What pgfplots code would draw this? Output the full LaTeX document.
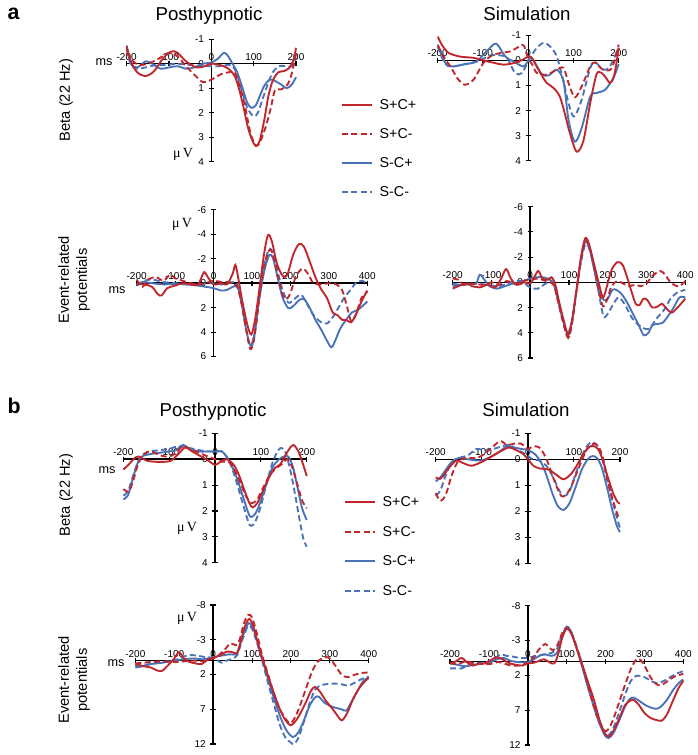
\documentclass[border=0pt]{standalone}
\usepackage{fontspec}
\setmainfont{Liberation Sans}
\newfontfamily\serifmu{Liberation Serif}
\usepackage{pgfplots}
\pgfplotsset{compat=1.18}
\definecolor{myred}{RGB}{192,39,45}
\definecolor{myblue}{RGB}{74,114,184}
\tikzset{
  rs/.style={myred, solid, line width=1.4pt},
  rd/.style={myred, dash pattern=on 4.5pt off 2.5pt, line width=1.4pt},
  bs/.style={myblue, solid, line width=1.4pt},
  bd/.style={myblue, dash pattern=on 4.5pt off 2.5pt, line width=1.4pt},
}
\pgfplotsset{
  panel/.style={
    scale only axis, anchor=south west,
    axis lines=middle, axis line style={-, line width=1.1pt, black},
    y dir=reverse,
    hide obscured x ticks=false, hide obscured y ticks=false,
    tick style={black, line width=0.8pt}, major tick length=4pt, tick align=center,
    tick label style={font=\fontsize{7.5}{8}\selectfont},
    xticklabel style={anchor=south, yshift=1pt},
    /pgf/number format/assume math mode=true,
    clip=false,
    every axis plot/.append style={smooth, tension=0.5, no marks},
  },
  beta/.style={panel, xmin=-200, xmax=200, ymin=-1, ymax=4,
    xtick={-200,-100,0,100,200}, ytick={-1,0,1,2,3,4}},
  erpa/.style={panel, xmin=-200, xmax=400, ymin=-6, ymax=6,
    xtick={-200,-100,0,100,200,300,400}, ytick={-6,-4,-2,0,2,4,6}},
  erpb/.style={panel, xmin=-200, xmax=400, ymin=-8, ymax=12,
    xtick={-200,-100,0,100,200,300,400}, ytick={-8,-3,2,7,12}},
}
\begin{document}
\begin{tikzpicture}
\useasboundingbox (0,0) rectangle (522.75pt,566.25pt);

% ---------- a: Posthypnotic beta ----------
\begin{axis}[beta, at={(95pt,445pt)}, width=127pt, height=91.8pt]
\addplot[bd] coordinates {(-200,-0.6) (-190,0.05) (-175,0.2) (-155,0.15) (-130,0.05) (-110,0.05) (-80,0) (-50,0.05) (-20,0.1) (0,0.1) (20,0.1) (40,0.05) (50,0.1) (60,0.4) (72,1.1) (85,1.8) (100,2.15) (110,2.0) (120,1.5) (132,0.9) (145,0.35) (160,0.1) (175,0.1) (190,0.1) (200,-0.25)};
\addplot[bs] coordinates {(-200,-0.75) (-190,0) (-175,0.15) (-155,-0.1) (-140,0) (-120,0.2) (-100,0.15) (-80,0.1) (-60,0.2) (-40,0.15) (-20,0) (0,-0.05) (15,-0.2) (30,-0.45) (40,-0.3) (50,0) (60,0.3) (72,0.9) (85,1.6) (95,1.8) (105,1.7) (115,1.3) (125,0.9) (138,0.65) (150,0.7) (165,0.85) (178,1.0) (190,0.85) (200,0.55)};
\addplot[rd] coordinates {(-200,-0.45) (-185,-0.1) (-170,0.05) (-150,0) (-125,-0.2) (-100,-0.45) (-80,-0.3) (-60,0.1) (-40,0.45) (-20,0.75) (0,0.65) (20,0.45) (40,0.35) (55,0.35) (65,0.8) (78,1.6) (92,2.8) (105,3.35) (115,3.2) (128,2.6) (140,1.85) (150,1.1) (165,1.05) (180,0.85) (190,0.4) (200,-0.4)};
\addplot[rs] coordinates {(-200,-0.7) (-190,-0.1) (-175,0.35) (-155,0.5) (-135,0.3) (-115,-0.2) (-95,-0.5) (-80,-0.45) (-60,-0.1) (-35,0.15) (-15,0.1) (0,0) (20,0.05) (40,0.2) (55,0.5) (65,1.0) (75,1.7) (88,2.7) (100,3.25) (107,3.35) (115,3.1) (125,2.3) (135,1.3) (145,0.7) (158,0.35) (172,0.3) (185,0.15) (195,-0.2) (200,-0.65)};
\end{axis}

% ---------- a: Simulation beta ----------
\begin{axis}[beta, at={(328.3pt,445.7pt)}, width=135.75pt, height=94.05pt]
\addplot[bd] coordinates {(-200,-0.55) (-185,0.1) (-170,0.25) (-140,0.15) (-106,0) (-84,-0.2) (-62,-0.2) (-47,-0.1) (-29,0.5) (-14,0.5) (4,-0.1) (19,-0.5) (34,-0.7) (48,-0.56) (63,-0.16) (78,0.84) (89,1.7) (101,2.24) (118,1.57) (137,0.3) (148,0.08) (166,0.37) (180,0.25) (200,-0.5)};
\addplot[bs] coordinates {(-200,-0.63) (-185,0.05) (-170,0.24) (-140,0.15) (-115,0.05) (-92,-0.36) (-71,-0.67) (-51,-0.16) (-33,0.04) (-11,0.24) (0,0) (4,-0.15) (15,0.1) (30,0.55) (45,0.6) (63,0.37) (78,0.84) (89,2.37) (103,3.24) (118,2.7) (137,1.44) (151,1.3) (170,1.17) (188,0.7) (200,0.15)};
\addplot[rd] coordinates {(-200,-0.6) (-185,-0.1) (-170,0.3) (-155,0.75) (-140,0.97) (-121,0.77) (-99,0.1) (-80,-0.2) (-60,-0.3) (-40,-0.36) (-20,-0.55) (-10,-0.6) (0,-0.1) (10,0.2) (19,0.5) (41,0.57) (63,0.37) (78,0.3) (89,0.9) (103,1.47) (118,1.04) (137,0.24) (148,0.08) (160,0.3) (170,0.4) (185,0.3) (200,-0.63)};
\addplot[rs] coordinates {(-200,-0.95) (-190,-0.6) (-176,-0.3) (-150,-0.15) (-120,-0.1) (-99,0) (-75,0.1) (-55,0.17) (-30,0.1) (-10,-0.05) (0,-0.15) (8,-0.1) (19,0.25) (30,0.6) (41,0.9) (56,1.1) (70,1.45) (82,2.2) (92,2.9) (107,3.64) (122,3.2) (137,1.7) (151,0.55) (162,0.5) (172,0.7) (181,0.9) (190,0.6) (200,-0.5)};
\end{axis}

% ---------- a: Posthypnotic ERP ----------
\begin{axis}[erpa, at={(102.5pt,298.9pt)}, width=172.95pt, height=109.9pt]
\addplot[bd] coordinates {(-200,0.2) (-180,-0.2) (-160,-0.3) (-130,-0.1) (-100,0) (-70,0.1) (-40,0.1) (-20,0) (0,0) (20,0.1) (40,0) (60,0) (72,1.5) (85,3.8) (96,5.3) (106,4.4) (118,1.5) (132,-1.5) (145,-2.8) (155,-2.4) (168,-0.8) (180,0.6) (195,1.6) (210,1.3) (228,0.95) (245,1.8) (260,2.6) (280,3.2) (295,3.3) (310,2.8) (325,2.0) (340,1.2) (355,0.6) (370,0) (385,-0.2) (400,0)};
\addplot[bs] coordinates {(-200,0.1) (-185,-0.1) (-160,0) (-130,0.1) (-100,0.05) (-70,0.1) (-40,0.2) (-20,0.3) (0,0.4) (20,0.6) (35,0.55) (50,0.3) (62,0.3) (72,1.5) (85,3.8) (96,5.1) (106,4.2) (118,1.5) (132,-1.0) (145,-2.3) (155,-2.0) (168,-0.3) (180,1.2) (195,2.05) (210,1.8) (222,1.4) (235,1.3) (250,2.0) (265,3.0) (280,3.8) (295,4.7) (307,5.25) (318,4.6) (330,3.7) (345,3.0) (360,2.4) (375,2.2) (390,1.8) (400,1.5)};
\addplot[rd] coordinates {(-200,-0.3) (-185,0.3) (-170,-0.3) (-150,-0.5) (-130,-0.2) (-113,-0.7) (-100,-0.4) (-80,-0.2) (-60,0) (-40,0.1) (-20,0) (0,-0.2) (20,-0.1) (40,-0.1) (60,0.2) (72,1.5) (85,3.8) (96,5.4) (106,4.5) (118,1.5) (130,-1.2) (145,-2.7) (155,-2.3) (168,-0.5) (180,1.0) (190,1.3) (200,0.8) (215,-0.6) (232,-1.2) (245,-0.8) (260,0) (280,0.1) (300,0) (320,0.1) (335,0.6) (348,2.0) (358,3.1) (370,2.6) (385,1.2) (400,0.7)};
\addplot[rs] coordinates {(-200,0.1) (-180,0.1) (-160,0.3) (-145,0.9) (-135,1.0) (-120,0.4) (-100,0.2) (-80,0) (-60,0.1) (-40,0.1) (-25,-0.9) (-15,-0.5) (0,0.1) (20,0) (35,0.1) (50,-0.8) (57,-1.5) (65,-0.3) (75,1.5) (88,3.4) (98,4.2) (108,3.0) (120,0.3) (132,-2.5) (142,-3.95) (152,-3.4) (165,-1.6) (180,-0.6) (192,-0.7) (207,-2.3) (222,-3.2) (235,-3.0) (250,-1.8) (265,-0.5) (280,0.5) (295,1.2) (310,2.4) (322,2.6) (335,3.0) (345,3.0) (358,3.2) (370,2.6) (385,1.5) (400,0.6)};
\end{axis}

% ---------- a: Simulation ERP ----------
\begin{axis}[erpa, at={(339.5pt,297.75pt)}, width=174.45pt, height=113.5pt]
\addplot[bd] coordinates {(-200,0.3) (-170,0.2) (-140,0.1) (-110,0.2) (-80,0.3) (-50,0) (-25,-0.1) (0,0.4) (20,0.5) (40,0.1) (60,0) (72,1.5) (85,3.2) (98,4.4) (108,3.2) (120,0.5) (131,-1.6) (142,-3.0) (152,-2.7) (165,-1.2) (178,1.0) (189,2.7) (200,2.5) (213,1.8) (228,1.2) (245,1.8) (262,2.8) (280,3.4) (298,3.7) (310,3.6) (325,2.9) (345,2.2) (362,1.3) (380,0.8) (400,0.6)};
\addplot[bs] coordinates {(-200,0.1) (-180,0.2) (-160,0.1) (-140,0.1) (-130,-0.6) (-118,-0.2) (-105,0.3) (-85,0.5) (-65,0.3) (-45,0.1) (-20,-0.1) (0,-0.3) (15,-0.4) (30,-0.4) (45,-0.3) (60,0.1) (72,1.5) (85,3.0) (97,4.0) (108,3.0) (120,0.5) (131,-1.8) (142,-3.2) (152,-2.8) (165,-1.0) (178,0.8) (190,1.4) (200,1.3) (212,0.6) (222,0.6) (235,0.9) (250,1.6) (265,2.5) (280,3.4) (293,4.2) (305,4.0) (315,3.4) (328,3.3) (342,3.2) (355,2.7) (370,2.0) (385,1.2) (400,1.2)};
\addplot[rd] coordinates {(-200,-0.3) (-185,-0.2) (-170,0.2) (-150,0.1) (-120,0.2) (-100,0) (-80,0.2) (-60,-0.1) (-40,0.1) (-20,-0.1) (0,-0.2) (20,-0.3) (40,-0.1) (60,0.2) (72,1.5) (85,3.2) (98,4.4) (108,3.2) (120,0.5) (131,-1.8) (142,-3.3) (152,-2.9) (165,-1.2) (178,0.8) (188,1.9) (198,1.4) (210,0.3) (225,-0.1) (240,0.1) (255,0.3) (270,0.2) (285,0.3) (300,0.1) (315,-0.5) (335,-0.9) (348,-0.6) (362,0) (378,0.3) (390,0.2) (400,-0.1)};
\addplot[rs] coordinates {(-200,0.5) (-185,0.3) (-165,0.1) (-150,0.3) (-130,0.4) (-110,0.2) (-90,0.4) (-75,-0.3) (-62,-1.05) (-50,-0.3) (-35,0.2) (-15,0) (0,0.1) (12,-0.5) (21,-0.9) (32,-0.3) (45,-0.2) (55,-0.4) (65,0.2) (75,1.6) (88,3.2) (98,4.2) (108,3.0) (120,0.5) (131,-2.0) (142,-3.5) (152,-3.0) (165,-1.4) (178,0.2) (188,1.2) (198,0.3) (210,-1.0) (225,-1.6) (238,-1.4) (250,-0.4) (262,0.8) (272,1.7) (282,1.8) (292,1.3) (302,1.4) (315,2.0) (330,1.9) (340,1.7) (352,2.1) (365,2.4) (380,2.0) (400,1.3)};
\end{axis}

% ---------- b: Posthypnotic beta ----------
\begin{axis}[beta, at={(92.5pt,144.2pt)}, width=137.55pt, height=97.05pt]
\addplot[bd] coordinates {(-200,1.4) (-190,1.25) (-180,0.7) (-170,0.2) (-160,-0.15) (-140,-0.3) (-120,-0.35) (-100,-0.4) (-80,-0.5) (-60,-0.45) (-35,-0.35) (-15,-0.3) (0,-0.3) (15,-0.3) (25,-0.1) (35,0.25) (48,0.95) (62,1.8) (76,2.55) (88,2.4) (100,1.8) (113,0.9) (126,0.1) (138,-0.35) (146,-0.43) (155,-0.2) (165,0.5) (175,1.4) (185,2.4) (193,3.1) (200,3.38)};
\addplot[bs] coordinates {(-200,1.55) (-190,1.4) (-180,0.8) (-170,0.2) (-160,-0.1) (-140,-0.2) (-120,-0.25) (-100,-0.3) (-85,-0.35) (-70,-0.55) (-55,-0.4) (-35,-0.3) (-15,-0.3) (0,-0.3) (15,-0.3) (25,-0.1) (35,0.2) (48,0.75) (62,1.5) (76,2.2) (88,2.1) (100,1.6) (113,0.9) (126,0.3) (140,0) (150,-0.1) (160,-0.1) (170,0.3) (180,1.1) (190,1.9) (200,2.35)};
\addplot[rd] coordinates {(-200,1.15) (-188,1.25) (-178,0.8) (-168,0.2) (-155,-0.2) (-140,-0.3) (-120,-0.15) (-100,-0.1) (-85,-0.25) (-70,-0.5) (-55,-0.4) (-35,-0.25) (-15,-0.1) (0,0) (15,0.1) (30,0.1) (42,0.4) (55,0.9) (68,1.45) (80,1.7) (92,1.55) (105,1.1) (118,0.65) (130,0.4) (145,0.2) (158,0) (168,0.3) (180,1.0) (190,1.6) (200,1.9)};
\addplot[rs] coordinates {(-200,0.4) (-188,0.2) (-175,-0.05) (-165,-0.1) (-150,0.05) (-130,0.1) (-110,0.1) (-95,0.05) (-80,-0.2) (-65,-0.45) (-50,-0.3) (-30,-0.1) (-15,0.05) (0,0.22) (12,0.1) (25,0) (40,0.2) (52,0.6) (64,1.2) (75,1.7) (82,1.86) (92,1.7) (105,1.2) (118,0.7) (130,0.35) (142,0.2) (152,-0.1) (162,-0.4) (171,-0.55) (182,-0.3) (192,0.2) (200,0.65)};
\end{axis}

% ---------- b: Simulation beta ----------
\begin{axis}[beta, at={(326.8pt,143.8pt)}, width=138.2pt, height=97.5pt]
\addplot[bd] coordinates {(-200,1.4) (-190,1.2) (-178,0.6) (-165,0.1) (-150,-0.05) (-130,-0.15) (-112,-0.4) (-95,-0.35) (-75,-0.4) (-55,-0.5) (-40,-0.55) (-22,-0.35) (-5,-0.2) (10,0) (25,0.05) (40,0.25) (55,0.7) (68,1.2) (77,1.42) (90,1.25) (104,0.55) (118,-0.15) (130,-0.55) (140,-0.65) (152,-0.5) (163,0.1) (175,1.0) (188,1.9) (200,2.65)};
\addplot[bs] coordinates {(-200,0.85) (-190,0.7) (-178,0.4) (-165,0.1) (-150,-0.05) (-130,0) (-105,0.05) (-85,-0.05) (-65,-0.25) (-45,-0.5) (-30,-0.45) (-15,-0.4) (0,-0.35) (15,-0.2) (28,0.1) (40,0.6) (53,1.3) (65,1.8) (77,1.95) (90,1.7) (103,1.1) (117,0.4) (130,0) (140,-0.12) (150,-0.05) (160,0.3) (172,1.1) (184,2.0) (194,2.6) (200,2.8)};
\addplot[rd] coordinates {(-200,1.3) (-190,1.6) (-178,1.35) (-165,0.6) (-150,0.05) (-130,-0.05) (-110,-0.05) (-95,-0.2) (-78,-0.45) (-60,-0.7) (-45,-0.55) (-30,-0.6) (-15,-0.6) (0,-0.4) (12,-0.5) (25,-0.45) (35,-0.2) (45,0.2) (58,0.85) (73,1.42) (88,1.25) (102,0.7) (117,0.05) (130,-0.45) (142,-0.6) (153,-0.5) (163,-0.05) (173,0.8) (185,1.6) (195,2.15) (200,2.3)};
\addplot[rs] coordinates {(-200,0.7) (-190,0.75) (-180,0.55) (-170,0.3) (-155,0.05) (-140,0.15) (-122,0.25) (-100,0.1) (-80,-0.1) (-60,-0.3) (-42,-0.45) (-25,-0.35) (-10,-0.2) (0,0) (12,0.25) (25,0.35) (45,0.4) (62,0.6) (77,0.77) (92,0.6) (106,0.25) (120,-0.2) (132,-0.45) (140,-0.52) (152,-0.4) (162,0) (172,0.6) (185,1.3) (195,1.65) (200,1.7)};
\end{axis}

% ---------- b: Posthypnotic ERP ----------
\begin{axis}[erpb, at={(101.5pt,8.25pt)}, width=175.05pt, height=104.25pt]
\addplot[bd] coordinates {(-200,0.8) (-180,0.6) (-160,0.5) (-130,0.2) (-100,0) (-80,-0.5) (-60,-0.8) (-40,-0.7) (-20,-0.5) (0,-0.4) (12,0) (22,0.3) (35,0) (50,-0.3) (62,-0.8) (72,-2.5) (82,-4.0) (90,-5.0) (100,-4.6) (113,-2.5) (126,0) (140,3.0) (155,6.0) (170,9.0) (185,11.0) (200,11.8) (208,12.0) (220,11.0) (235,8.5) (250,5.8) (262,4.2) (275,3.6) (290,3.4) (310,3.3) (330,3.4) (345,3.6) (360,3.3) (380,2.7) (400,2.3)};
\addplot[bs] coordinates {(-200,1.0) (-180,0.8) (-160,0.5) (-130,0.3) (-100,0) (-75,-0.2) (-50,-0.3) (-25,-0.2) (0,-0.5) (20,-0.7) (40,-0.9) (60,-1.0) (72,-2.8) (82,-4.4) (92,-5.4) (102,-4.8) (115,-2.5) (128,0) (142,2.8) (157,5.5) (172,8.0) (188,10.0) (205,11.0) (218,10.4) (232,8.8) (248,6.5) (262,5.3) (272,5.2) (285,6.0) (300,6.5) (315,6.8) (330,7.0) (342,7.2) (355,6.0) (370,4.5) (385,3.0) (400,2.4)};
\addplot[rd] coordinates {(-200,0.4) (-180,0.3) (-160,0.2) (-130,0.1) (-100,0.2) (-75,0.1) (-50,0) (-25,0.1) (0,-0.3) (15,-0.8) (30,-1.6) (45,-2.5) (58,-2.2) (68,-3.0) (80,-5.5) (91,-6.6) (100,-6.2) (112,-4.0) (125,-1.0) (140,1.8) (155,4.5) (170,6.8) (185,8.3) (199,9.0) (212,8.0) (225,6.2) (240,3.8) (255,1.5) (268,0.2) (280,-0.3) (292,-0.5) (302,-0.2) (315,0.8) (330,2.0) (345,2.4) (360,2.1) (380,1.8) (400,1.7)};
\addplot[rs] coordinates {(-200,0.5) (-180,0.8) (-160,1.0) (-145,1.4) (-132,1.5) (-118,0.8) (-100,-0.3) (-88,-1.2) (-75,-0.3) (-60,0.2) (-45,0.4) (-30,0.5) (-15,-0.1) (0,-0.4) (20,-0.8) (35,-1.3) (50,-1.2) (62,-1.1) (72,-3.0) (82,-5.0) (93,-6.0) (103,-5.0) (115,-2.5) (128,0) (140,2.0) (155,4.5) (170,6.8) (185,8.5) (199,9.3) (212,8.7) (225,7.5) (240,5.8) (252,4.3) (262,3.8) (275,4.5) (290,5.8) (305,6.8) (318,7.8) (331,8.6) (345,7.5) (360,5.5) (375,4.0) (390,3.0) (400,2.5)};
\end{axis}

% ---------- b: Simulation ERP ----------
\begin{axis}[erpb, at={(337.5pt,7.5pt)}, width=175pt, height=104.5pt]
\addplot[bd] coordinates {(-200,1.0) (-185,1.0) (-170,1.0) (-155,0.6) (-140,0.3) (-120,0.2) (-100,0) (-85,-0.4) (-70,-1.0) (-55,-0.8) (-40,-0.7) (-20,-0.5) (0,-0.5) (20,-0.8) (40,-1.0) (60,-1.2) (75,-1.8) (88,-3.8) (100,-4.8) (112,-4.2) (125,-2.0) (140,0.5) (155,3.3) (170,6.5) (185,9.0) (200,10.3) (210,10.5) (222,9.3) (238,6.8) (252,4.5) (265,2.8) (278,2.1) (292,2.1) (305,2.4) (320,2.9) (335,3.1) (350,2.8) (368,2.2) (385,1.7) (400,1.4)};
\addplot[bs] coordinates {(-200,0.3) (-180,0.5) (-160,0.7) (-140,0.5) (-120,0.3) (-100,0.2) (-80,-0.3) (-62,-0.5) (-45,-0.1) (-25,0.1) (0,0.1) (15,-0.3) (30,-0.8) (45,-1.0) (60,-0.8) (75,-1.2) (88,-3.5) (100,-5.0) (112,-4.2) (125,-2.0) (140,0.8) (155,3.8) (170,6.5) (185,9.0) (198,10.6) (208,11.0) (220,10.3) (235,8.5) (250,6.5) (262,5.4) (272,5.2) (285,5.6) (300,6.2) (315,6.6) (330,6.8) (342,6.5) (358,5.5) (375,4.0) (390,3.0) (400,2.6)};
\addplot[rd] coordinates {(-200,0.2) (-180,0.4) (-160,0) (-130,0.3) (-100,0.4) (-75,0.1) (-50,0.5) (-25,0.6) (0,0.2) (15,-0.6) (30,-1.8) (45,-2.5) (55,-2.0) (65,-1.6) (75,-2.2) (88,-4.0) (100,-4.8) (112,-4.0) (125,-2.2) (140,0.5) (155,3.5) (170,6.5) (185,8.8) (200,10.0) (212,9.3) (225,7.5) (240,5.0) (255,2.6) (268,0.7) (280,-0.3) (290,-0.2) (302,0.8) (318,2.5) (335,3.4) (350,3.2) (365,2.6) (380,2.1) (400,1.8)};
\addplot[rs] coordinates {(-200,0.3) (-185,0) (-170,-0.5) (-155,0.2) (-140,0.6) (-125,0.3) (-110,0.3) (-95,-0.2) (-80,-0.6) (-65,-0.3) (-50,0.2) (-30,0.5) (-15,0.6) (0,0.3) (15,0.2) (30,-0.1) (42,-0.3) (55,0.1) (68,0.3) (78,-1.0) (88,-3.3) (100,-4.7) (112,-4.0) (125,-2.0) (140,0.5) (155,3.0) (170,5.5) (185,8.5) (198,10.3) (208,10.8) (220,10.0) (235,8.2) (250,6.3) (262,5.7) (272,5.5) (285,6.2) (300,7.4) (315,8.1) (330,8.4) (345,8.5) (358,7.6) (372,5.8) (388,3.8) (400,2.8)};
\end{axis}

% ---------- text, in image pixel coordinates ----------
\begin{scope}[x=0.75pt, y=-0.75pt, shift={(0,566.25pt)}]
  \node[anchor=base west, font=\fontsize{16}{18}\selectfont\bfseries] at (3,20) {a};
  \node[anchor=base west, font=\fontsize{16}{18}\selectfont\bfseries] at (3,414) {b};
  \node[anchor=base, font=\fontsize{14}{16}\selectfont] at (209,21) {Posthypnotic};
  \node[anchor=base, font=\fontsize{14}{16}\selectfont] at (527,21) {Simulation};
  \node[anchor=base, font=\fontsize{14}{16}\selectfont] at (213,417) {Posthypnotic};
  \node[anchor=base, font=\fontsize{14}{16}\selectfont] at (526,417) {Simulation};
  \node[rotate=90, font=\fontsize{11}{13.5}\selectfont] at (66,100) {Beta (22 Hz)};
  \node[rotate=90, align=center, font=\fontsize{11}{13.5}\selectfont] at (74,280) {Event-related\\potentials};
  \node[rotate=90, font=\fontsize{11}{13.5}\selectfont] at (66,495) {Beta (22 Hz)};
  \node[rotate=90, align=center, font=\fontsize{11}{13.5}\selectfont] at (74,680) {Event-related\\potentials};
  % ms and muV
  \node[font=\fontsize{9.5}{11}\selectfont] at (104,62) {ms};
  \node[font=\fontsize{9.5}{11}\selectfont] at (117,290) {ms};
  \node[font=\fontsize{9.5}{11}\selectfont] at (107,470) {ms};
  \node[font=\fontsize{9.5}{11}\selectfont] at (116,663) {ms};
  \node[font=\serifmu\fontsize{10.5}{12}\selectfont] at (183,154) {μ\,V};
  \node[font=\serifmu\fontsize{10.5}{12}\selectfont] at (182,224) {μ\,V};
  \node[font=\serifmu\fontsize{10.5}{12}\selectfont] at (187,528) {μ\,V};
  \node[font=\serifmu\fontsize{10.5}{12}\selectfont] at (187,618) {μ\,V};
  % legend a
  \draw[rs] (342,105) -- (372,105);
  \draw[rd] (342,134) -- (372,134);
  \draw[bs] (342,163) -- (372,163);
  \draw[bd] (342,192) -- (372,192);
  \node[anchor=west, font=\fontsize{10.7}{12}\selectfont] at (375,105) {S+C+};
  \node[anchor=west, font=\fontsize{10.7}{12}\selectfont] at (375,134) {S+C-};
  \node[anchor=west, font=\fontsize{10.7}{12}\selectfont] at (375,163) {S-C+};
  \node[anchor=west, font=\fontsize{10.7}{12}\selectfont] at (375,192) {S-C-};
  % legend b
  \draw[rs] (345,502) -- (375,502);
  \draw[rd] (345,532) -- (375,532);
  \draw[bs] (345,561) -- (375,561);
  \draw[bd] (345,591) -- (375,591);
  \node[anchor=west, font=\fontsize{10.7}{12}\selectfont] at (378,502) {S+C+};
  \node[anchor=west, font=\fontsize{10.7}{12}\selectfont] at (378,532) {S+C-};
  \node[anchor=west, font=\fontsize{10.7}{12}\selectfont] at (378,561) {S-C+};
  \node[anchor=west, font=\fontsize{10.7}{12}\selectfont] at (378,591) {S-C-};
\end{scope}
\end{tikzpicture}
\end{document}
